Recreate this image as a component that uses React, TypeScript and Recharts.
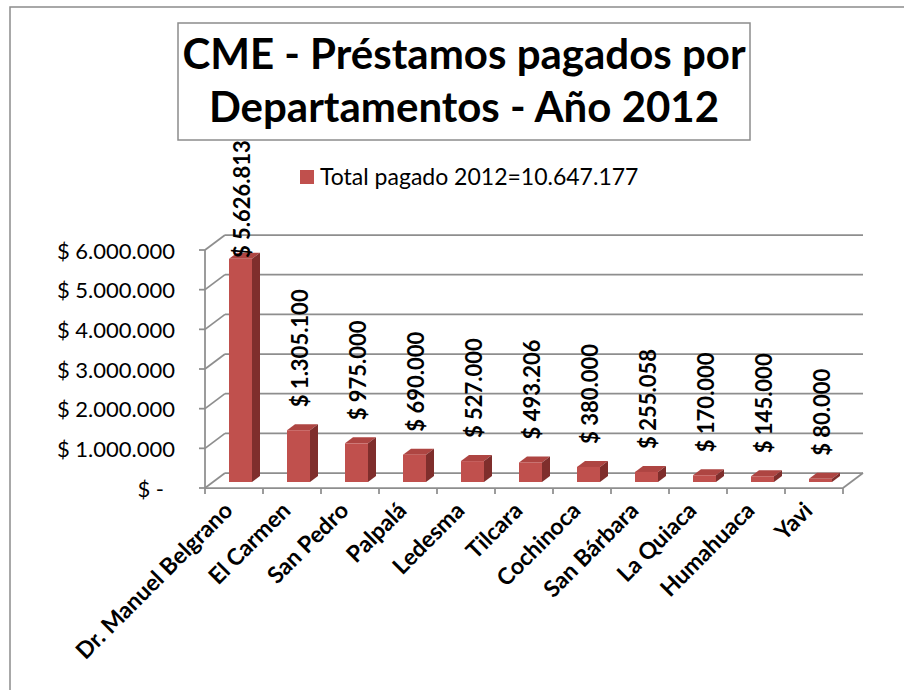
import { Bar, BarChart, CartesianGrid, LabelList, XAxis, YAxis } from 'recharts'

const departamentos = [
  'Dr. Manuel Belgrano',
  'El Carmen',
  'San Pedro',
  'Palpalá',
  'Ledesma',
  'Tilcara',
  'Cochinoca',
  'San Bárbara',
  'La Quiaca',
  'Humahuaca',
  'Yavi',
]
const totalPagado = [5626813, 1305100, 975000, 690000, 527000, 493206, 380000, 255058, 170000, 145000, 80000]
const yTicks = [0, 1000000, 2000000, 3000000, 4000000, 5000000, 6000000]
const seriesName = 'Total pagado 2012=10.647.177'
const titleLines = ['CME - Préstamos pagados por', 'Departamentos - Año 2012']

const data = departamentos.map((name, i) => ({ name, value: totalPagado[i] }))

const FONT = 'Lato, "DejaVu Sans", sans-serif'
const GRID = '#8e8e8e'
const RED = '#C0504D'
const RED_SIDE = '#7F2E2C'
const RED_TOP = '#AE4542'

// depth of the floor / back wall, and of each bar
const DX = 20
const DY = -15
const BAR_OFF = { x: 6, y: -6 }
const BAR_DEPTH = { x: 8, y: -6 }

const W = 904
const H = 690
const PLOT_LEFT = 205
const PLOT_RIGHT = 843
const PLOT_BOTTOM = 488
const BAND = (PLOT_RIGHT - PLOT_LEFT) / departamentos.length

const money = (v: number) => (v === 0 ? '$ -' : '$ ' + String(Math.round(v)).replace(/\B(?=(\d{3})+(?!\d))/g, '.'))

const Bar3D = (props: any) => {
  const { x, y, width, height } = props
  if (height == null || width == null) return null
  const fx = x + BAR_OFF.x
  const fy = y + BAR_OFF.y
  const { x: dx, y: dy } = BAR_DEPTH
  return (
    <g>
      <polygon
        points={`${fx},${fy} ${fx + dx},${fy + dy} ${fx + width + dx},${fy + dy} ${fx + width},${fy}`}
        fill={RED_TOP}
      />
      <polygon
        points={`${fx + width},${fy} ${fx + width + dx},${fy + dy} ${fx + width + dx},${fy + height + dy} ${fx + width},${fy + height}`}
        fill={RED_SIDE}
      />
      <rect x={fx} y={fy} width={width} height={height} fill={RED} />
    </g>
  )
}

const ValueLabel = (props: any) => {
  const { x, y, width, value } = props
  const cx = x + width / 2 + BAR_OFF.x + 1
  let start = y - 29
  // keep the tallest label under the title box
  if (start - 116 < 142) start = 258
  return (
    <text
      x={cx}
      y={start}
      transform={`rotate(-90 ${cx} ${start})`}
      textAnchor="start"
      dominantBaseline="central"
      fontFamily={FONT}
      fontWeight="bold"
      fontSize={22}
      fill="#000">
      {money(value)}
    </text>
  )
}

const YTick = (props: any) => {
  const { y, payload } = props
  const isZero = payload.value === 0
  return (
    <g>
      <line x1={PLOT_LEFT - 6} x2={PLOT_LEFT} y1={y} y2={y} stroke={GRID} strokeWidth={1.75} />
      <text
        x={isZero ? 164 : 175}
        y={y}
        textAnchor="end"
        dominantBaseline="central"
        fontFamily={FONT}
        fontWeight={400}
        fontSize={22}
        fill="#000">
        {money(payload.value)}
      </text>
    </g>
  )
}

const XTick = (props: any) => {
  const { x, payload, index } = props
  const ax = x
  const ay = 512
  const last = index === departamentos.length - 1
  return (
    <g>
      <line x1={x - BAND / 2} x2={x - BAND / 2} y1={PLOT_BOTTOM} y2={PLOT_BOTTOM + 6} stroke={GRID} strokeWidth={1.75} />
      {last && (
        <line x1={x + BAND / 2} x2={x + BAND / 2} y1={PLOT_BOTTOM} y2={PLOT_BOTTOM + 6} stroke={GRID} strokeWidth={1.75} />
      )}
      <text
        x={ax}
        y={ay}
        transform={`rotate(-45 ${ax} ${ay})`}
        textAnchor="end"
        fontFamily={FONT}
        fontWeight="bold"
        fontSize={23}
        fill="#000">
        {payload.value}
      </text>
    </g>
  )
}

const GridLine = (props: any) => {
  const { x1, x2, y1 } = props
  const isFloor = Math.abs(y1 - PLOT_BOTTOM) < 1
  return (
    <g key={props.key}>
      <line x1={x1} y1={y1} x2={x1 + DX} y2={y1 + DY} stroke={GRID} strokeWidth={1.75} />
      <line x1={x1 + DX} y1={y1 + DY} x2={x2 + DX} y2={y1 + DY} stroke={GRID} strokeWidth={1.75} />
      {isFloor && <line x1={x2} y1={y1} x2={x2 + DX} y2={y1 + DY} stroke={GRID} strokeWidth={1.75} />}
    </g>
  )
}

export default function App() {
  return (
    <div style={{ position: 'absolute', left: 0, top: 0, width: W, height: H, background: '#fff' }}>
      <BarChart
        width={W}
        height={H}
        data={data}
        margin={{ top: 250, right: W - PLOT_RIGHT, bottom: H - PLOT_BOTTOM - 30, left: PLOT_LEFT - 80 }}>
        <rect x={10} y={7} width={W + 20} height={H + 20} fill="none" stroke="#8c8c8c" strokeWidth={1.5} />
        <rect x={178} y={23} width={572} height={117} fill="#fff" stroke="#8c8c8c" strokeWidth={1.5} />
        {titleLines.map((line, i) => (
          <text
            key={line}
            x={464}
            y={69 + i * 53}
            textAnchor="middle"
            fontFamily={FONT}
            fontWeight="bold"
            fontSize={42}
            fill="#000">
            {line}
          </text>
        ))}
        <rect x={300} y={170} width={14} height={14} fill={RED} />
        <text x={320} y={185} fontFamily={FONT} fontWeight={400} fontSize={23} fill="#000">
          {seriesName}
        </text>
        <CartesianGrid vertical={false} horizontal={GridLine} />
        <XAxis
          dataKey="name"
          interval={0}
          height={30}
          axisLine={{ stroke: GRID, strokeWidth: 1.75 }}
          tickLine={false}
          tick={XTick}
        />
        <YAxis
          width={80}
          domain={[0, 6000000]}
          ticks={yTicks}
          interval={0}
          axisLine={{ stroke: GRID, strokeWidth: 1.75 }}
          tickLine={false}
          tick={YTick}
        />
        <Bar dataKey="value" name={seriesName} barSize={23} shape={Bar3D} isAnimationActive={false}>
          <LabelList dataKey="value" content={ValueLabel} />
        </Bar>
      </BarChart>
    </div>
  )
}
